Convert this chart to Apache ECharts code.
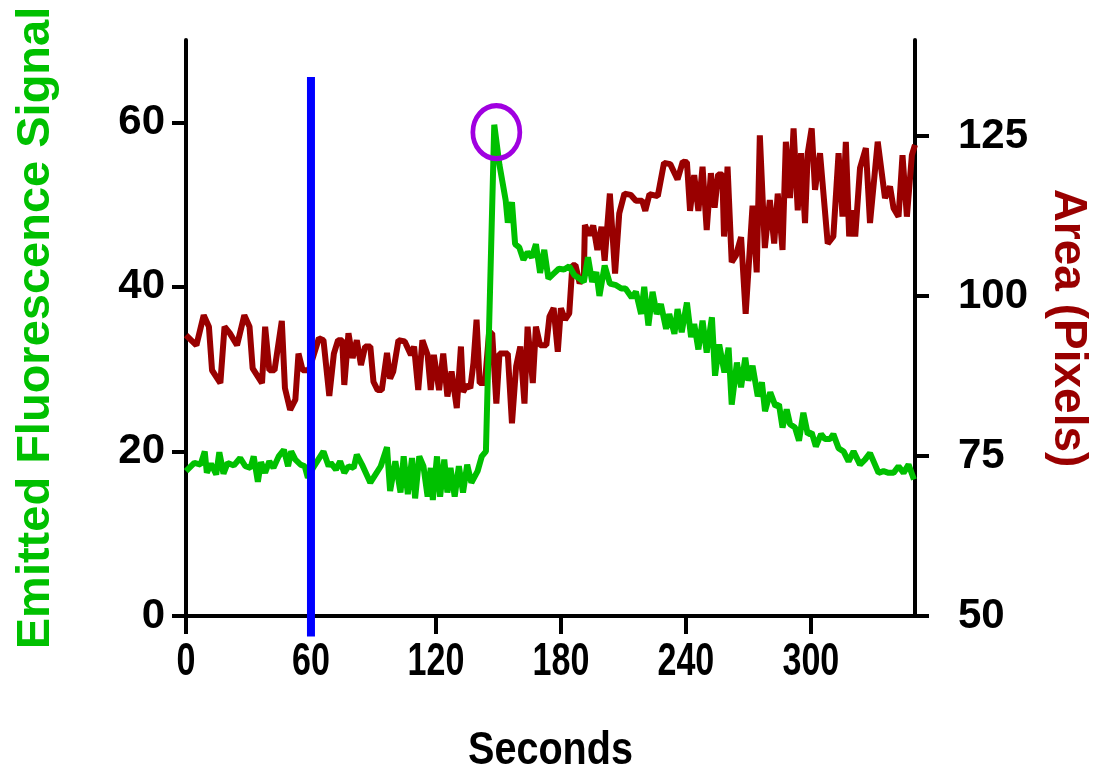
<!DOCTYPE html>
<html>
<head>
<meta charset="utf-8">
<script src="https://cdn.jsdelivr.net/npm/echarts@6/dist/echarts.min.js"></script>
<style>
  html, body { margin: 0; padding: 0; background: #fff; }
  #chart { width: 1098px; height: 776px; }
</style>
</head>
<body>
<div id="chart"></div>
<script>
// seconds / emitted fluorescence (left axis)
var fluorTime = [0, 4, 7, 9, 10, 12, 14.5, 16, 18, 20, 23, 26, 28.5, 31, 32.5, 34.5, 36, 38, 40, 42, 44.5, 47, 49, 50.5, 52.5, 55, 57, 58.5, 61, 63.5, 66, 68.5,
  69.5, 72, 74, 76, 78, 80.5, 82, 84.5, 88.5, 93.5, 96.5, 98, 100.5, 103, 104.5, 106.5, 108.5, 110, 112, 114, 116, 117.5, 118.5, 120.5, 122, 124, 125.5, 127, 129, 131, 133, 135, 137, 140, 142, 144,
  148, 150.5, 153.5, 154.5, 156.5, 158, 160, 162, 164, 166, 168, 170, 172, 174, 176.5, 179, 181.5, 184, 186.5, 189, 191, 193, 195, 197, 198.5, 201, 203.5, 206.5, 209,
  211, 214, 216, 218.5, 220, 222, 224, 226, 228, 230.5, 232, 234.5, 236, 238, 240.5, 242.5, 244, 246, 248, 250, 252.5, 254, 256, 258.5, 260.5, 262, 264.5, 266.5, 268.5, 270, 272, 274.5, 276.5, 278, 280.5,
  283, 284.7, 286.4, 288.4, 290, 292.4, 294.3, 296.4, 298.5, 300.4, 302.4, 304.9, 306.8, 309.2, 310.8, 313.3, 315.7, 318.1, 320.5, 323.6, 326, 328.4, 332.5, 334.9, 337.3, 339.7, 342.1, 344.5, 346.9, 349.5];
var fluorValue = [17.6, 18.6, 18.4, 20.0, 17.4, 18.5, 17.2, 19.9, 17.3, 18.6, 18.3, 19.2, 18.2, 18.0, 19.4, 16.3, 18.7, 17.4, 18.8, 18.0, 19.4, 20.2, 18.2, 20.0, 19.0, 18.4, 18.2, 16.8, 18.0, 19.0, 20.0, 18.2,
  18.6, 17.8, 18.8, 17.4, 18.2, 18.0, 19.6, 18.4, 16.2, 18.2, 20.5, 15.2, 18.8, 15.0, 19.4, 14.8, 19.2, 14.3, 19.4, 18.2, 14.5, 18.0, 14.1, 19.4, 14.5, 19.0, 15.0, 18.0, 14.5, 18.2, 15.0, 18.4, 16.2, 17.6, 19.4, 20.0,
  59.7, 54.8, 50.5, 47.8, 50.3, 45.2, 44.8, 43.3, 44.2, 43.6, 45.2, 41.7, 44.5, 41.0, 41.6, 42.2, 42.1, 42.5, 41.4, 41.0, 40.6, 43.6, 40.6, 41.8, 38.9, 42.6, 40.4, 40.2, 39.8,
  39.8, 38.7, 39.4, 36.7, 40.0, 35.3, 39.4, 36.7, 37.9, 34.9, 36.7, 34.3, 37.3, 34.5, 38.1, 33.9, 35.5, 32.4, 35.9, 32.0, 36.3, 29.2, 33.0, 29.6, 32.6, 25.7, 30.8, 27.8, 31.4, 28.6, 30.4, 26.7, 28.4, 24.9, 27.2,
  25.5, 25.7, 22.9, 25.1, 23.3, 22.9, 21.3, 24.7, 22.1, 22.3, 20.6, 22.1, 21.5, 21.5, 22.1, 20.4, 20.0, 18.8, 20.0, 18.4, 19.0, 19.8, 17.4, 17.6, 17.4, 17.4, 18.2, 17.4, 18.4, 16.6];

// seconds / area in pixels (right axis)
var areaTime = [0, 5, 8.5, 11, 12.5, 16.5, 18.5, 21, 24.5, 28, 30.5, 32, 36.5, 38, 40, 42.5, 46, 47.5, 50, 52.5, 54, 56, 59, 63.8, 66, 68.8,
  71, 73, 75, 76, 78, 80, 82, 84, 86, 88.5, 90, 92, 94, 96.5, 98, 99.5, 102, 105, 108, 109.5, 111.5, 113.5, 116, 117.5, 119, 121.5, 123.5, 125.5, 127.5, 130, 132, 133, 135, 136.5, 138, 139.5,
  141, 143.5, 145.5, 147, 149, 150.5, 154.5, 156.5, 158.5, 160.5, 162.5, 164, 166.5, 168, 170, 173, 174.5, 176.5, 178.5, 180, 182, 184, 185.5, 187, 189, 191, 191.5, 193.5, 195.5, 197.5, 199.5, 201, 203.5, 206, 208, 210.5,
  213.5, 216, 219, 220.5, 222.5, 226.5, 229.5, 232.5, 236, 238.5, 240.5, 242, 244, 246, 248, 250, 252, 253.8, 255.5, 257.5, 258.3, 260, 262, 264, 266.5, 268.7, 272, 274, 275.5, 277.9, 280.3, 282.4,
  284.1, 286.4, 288, 290, 291.7, 293.7, 295.3, 297.2, 298.5, 300.4, 302, 304.4, 308.1, 310.8, 313.3, 315.2, 316.8, 318.4, 320, 321.3, 323.6, 326.4, 328.4, 332.1, 335.6, 338, 339.7, 342.1, 344, 346.1, 348.5, 350];
var areaValue = [93.9, 92.3, 97.0, 95.2, 88.4, 86.4, 95.2, 94.2, 92.3, 97.0, 95.2, 88.7, 86.4, 95.2, 88.4, 88.4, 96.1, 85.6, 82.2, 83.8, 91.0, 88.4, 88.4, 93.4, 93.1, 84.4,
  91.0, 93.1, 93.1, 86.1, 94.2, 90.3, 93.1, 89.2, 92.1, 92.1, 86.6, 85.3, 85.3, 91.1, 87.1, 88.2, 93.1, 92.9, 90.8, 92.1, 85.3, 93.1, 90.8, 85.3, 90.8, 85.3, 91.0, 84.3, 88.2, 82.5, 92.1, 85.0, 86.1, 85.6, 89.5, 96.3,
  86.4, 86.4, 94.2, 94.2, 83.2, 91.0, 91.0, 80.1, 89.0, 92.1, 83.2, 95.2, 86.4, 95.2, 92.3, 92.3, 96.8, 98.1, 91.3, 98.1, 96.3, 97.3, 104.8, 104.8, 102.0, 103.0, 111.1, 109.5, 111.0, 107.2, 110.8, 105.5, 116.0, 103.5, 112.9, 116.0,
  115.8, 114.9, 114.9, 113.3, 115.9, 115.6, 120.8, 120.6, 118.2, 121.0, 120.9, 113.3, 118.9, 113.3, 120.2, 110.3, 119.2, 113.8, 119.0, 119.0, 109.3, 120.2, 105.3, 106.3, 109.2, 97.2, 114.1, 103.7, 125.1, 107.5, 115.0, 108.2,
  116.0, 107.2, 124.1, 115.3, 126.2, 113.4, 122.3, 111.4, 122.3, 126.2, 116.6, 122.3, 108.2, 109.3, 122.3, 112.4, 124.1, 109.3, 113.4, 109.3, 120.0, 123.1, 111.4, 124.1, 115.3, 117.1, 113.7, 112.4, 122.0, 112.4, 122.0, 123.6];

// stimulus at 60 s and the circled peak
var stimulusTime = [60, 60];
var stimulusLevel = [-2.5, 65.5];
var peakMark = [[149, 58.8]];

var xTicks = [0, 60, 120, 180, 240, 300];
var leftTicks = [0, 20, 40, 60];
var rightTicks = [50, 75, 100, 125];

function pairs(xs, ys) {
  var out = [];
  for (var i = 0; i < xs.length; i++) out.push([xs[i], ys[i]]);
  return out;
}

var axisFont = 'Liberation Sans, Arial, Helvetica, sans-serif';

var lineAxis = { show: true, lineStyle: { color: '#000', width: 4 } };
var tickStyle = { color: '#000', width: 4 };

var option = {
  animation: false,
  backgroundColor: '#fff',
  grid: { left: 186, right: 183, top: 40, bottom: 160, containLabel: false, outerBoundsMode: 'none' },
  xAxis: {
    type: 'value',
    min: 0,
    max: 350,
    axisLine: { show: true, onZero: false, lineStyle: { color: '#000', width: 4 } },
    axisTick: { show: true, length: 18, lineStyle: tickStyle, customValues: xTicks },
    // x labels are drawn condensed below, as in the original figure
    axisLabel: { show: false, customValues: xTicks },
    splitLine: { show: false }
  },
  yAxis: [
    {
      type: 'value',
      position: 'left',
      min: 0,
      max: 70,
      name: 'Emitted Fluorescence Signal',
      nameLocation: 'middle',
      nameRotate: 90,
      nameGap: 126,
      nameTextStyle: { fontFamily: axisFont, fontWeight: 'bold', fontSize: 47, color: '#00c000' },
      axisLine: lineAxis,
      axisTick: { show: true, length: 14, lineStyle: tickStyle, customValues: leftTicks },
      axisLabel: { margin: 21, fontFamily: axisFont, fontWeight: 'bold', fontSize: 42, color: '#000', customValues: leftTicks },
      splitLine: { show: false }
    },
    {
      type: 'value',
      position: 'right',
      min: 50,
      max: 140,
      name: 'Area (Pixels)',
      nameLocation: 'middle',
      nameRotate: -90,
      nameGap: 130,
      nameTextStyle: { fontFamily: axisFont, fontWeight: 'bold', fontSize: 46, color: '#990000' },
      axisLine: lineAxis,
      axisTick: { show: true, length: 14, lineStyle: tickStyle, customValues: rightTicks },
      axisLabel: { margin: 43, fontFamily: axisFont, fontWeight: 'bold', fontSize: 42, color: '#000', customValues: rightTicks },
      splitLine: { show: false }
    }
  ],
  series: [
    {
      name: 'Area',
      type: 'line',
      yAxisIndex: 1,
      showSymbol: false,
      symbol: 'none',
      lineStyle: { color: '#990000', width: 6, join: 'bevel' },
      data: pairs(areaTime, areaValue)
    },
    {
      name: 'Fluorescence',
      type: 'line',
      yAxisIndex: 0,
      showSymbol: false,
      symbol: 'none',
      lineStyle: { color: '#00c000', width: 6, join: 'bevel' },
      data: pairs(fluorTime, fluorValue)
    },
    {
      name: 'Stimulus',
      type: 'line',
      yAxisIndex: 0,
      clip: false,
      symbol: 'none',
      lineStyle: { color: '#0000ff', width: 8, cap: 'butt' },
      data: pairs(stimulusTime, stimulusLevel),
      z: 5
    },
    {
      name: 'Peak',
      type: 'scatter',
      yAxisIndex: 0,
      symbol: 'circle',
      symbolSize: [47, 53],
      itemStyle: { color: 'rgba(0,0,0,0)', borderColor: '#a000e0', borderWidth: 5, opacity: 1 },
      data: peakMark,
      z: 6
    }
  ]
};

var chartEle = echarts.init(document.getElementById('chart'));
chartEle.setOption(option);

// condensed bold tick labels and title under the x axis, placed through the axis scale
var axisY = chartEle.convertToPixel({ yAxisIndex: 0 }, 0);
var xLeft = chartEle.convertToPixel({ xAxisIndex: 0 }, 0);
var xRight = chartEle.convertToPixel({ xAxisIndex: 0 }, 350);
var xTexts = xTicks.map(function (v) {
  return {
    type: 'text',
    x: chartEle.convertToPixel({ xAxisIndex: 0 }, v),
    y: axisY + 23,
    scaleX: 0.74,
    silent: true,
    style: { text: String(v), fill: '#000', font: 'bold 46px ' + axisFont, align: 'center', verticalAlign: 'top', textAlign: 'center', textVerticalAlign: 'top' }
  };
});
xTexts.push({
  type: 'text',
  x: (xLeft + xRight) / 2,
  y: axisY + 112,
  scaleX: 0.86,
  silent: true,
  style: { text: 'Seconds', fill: '#000', font: 'bold 46px ' + axisFont, align: 'center', verticalAlign: 'top', textAlign: 'center', textVerticalAlign: 'top' }
});
chartEle.setOption({ graphic: xTexts });

window.addEventListener('resize', function () {
  chartEle.resize();
});
</script>
</body>
</html>
